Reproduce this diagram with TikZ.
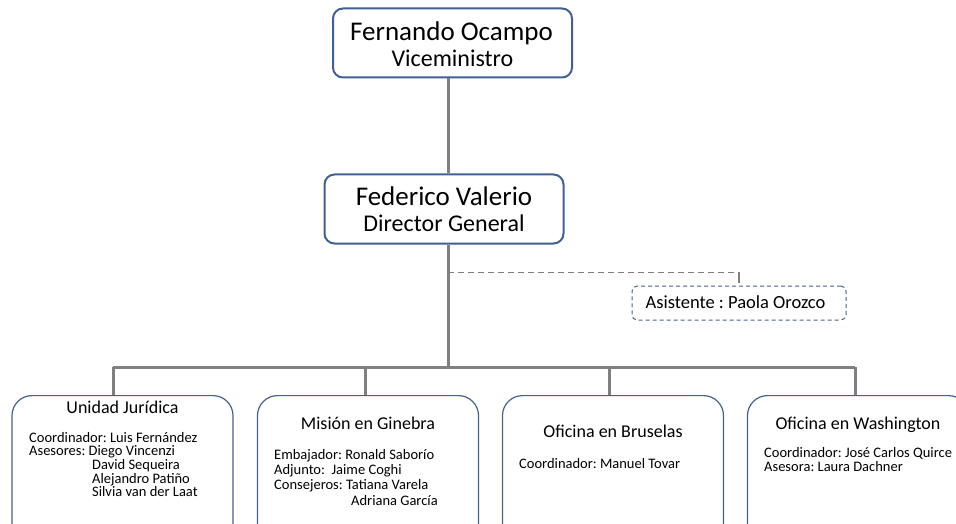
\documentclass[tikz,border=0pt]{standalone}
\usepackage{fontspec}
\setmainfont{Carlito}
\usetikzlibrary{positioning,calc}
\definecolor{boxblue}{RGB}{65,97,146}
\definecolor{linegray}{RGB}{128,128,128}

\tikzset{
  headbox/.style={draw=boxblue,line width=2pt,rounded corners=10pt,fill=white,
    minimum width=239pt,minimum height=69pt,inner sep=0pt},
  headname/.style={font=\fontsize{27}{30}\selectfont,anchor=base,inner sep=0pt},
  headrole/.style={font=\fontsize{24}{27}\selectfont,anchor=base,inner sep=0pt},
  unitbox/.style={draw=boxblue,line width=1.2pt,rounded corners=20pt,fill=white,
    minimum width=221pt,minimum height=160pt,anchor=north,inner sep=0pt},
  asistbox/.style={draw=boxblue,line width=1pt,dash pattern=on 4pt off 3pt,
    rounded corners=5pt,minimum width=214pt,minimum height=34pt,inner sep=0pt},
  asisttext/.style={font=\fontsize{18.5}{21}\selectfont,anchor=base,inner sep=0pt},
  conn/.style={draw=linegray,line width=3pt},
  dashconn/.style={draw=linegray,line width=1pt,dash pattern=on 6pt off 4pt},
  unittitle/.style={font=\fontsize{18}{21}\selectfont,anchor=base,inner sep=0pt},
  unitinfo/.style={font=\fontsize{14.5}{13.6}\selectfont,anchor=north west,align=left,inner sep=0pt},
}

\begin{document}
\frenchspacing
\begin{tikzpicture}[x=1pt,y=-1pt]
  \useasboundingbox (0,0) rectangle (956,524);
  \clip (0,0) rectangle (956,524);
  % top of the chart
  \node[headbox] (vice) at (452.5,43) {};
  \node[headname] (viceName) at (451.5,41) {Fernando Ocampo};
  \node[headrole] (viceRole) at (452.5,67) {Viceministro};
  \node[headbox] (dir) at (444,209) {};
  \node[headname] (dirName) at (444,205) {Federico Valerio};
  \node[headrole] (dirRole) at (444,231) {Director General};
  \node[asistbox] (asist) at (739,303) {};
  \node[asisttext] (asistText) at (735.5,308) {Asistente : Paola Orozco};
  \coordinate (trunk) at (448,0);
  \coordinate (bus) at (448,367);
  \coordinate (asistTap) at (739,272);
  % units
  \node[unitbox] (u1) at (122.5,395) {};
  \node[unitbox] (u2) at (368,395) {};
  \node[unitbox] (u3) at (613,395) {};
  \node[unitbox] (u4) at (858,395) {};
  \coordinate (drop1) at (113,367);
  \coordinate (drop2) at (365,367);
  \coordinate (drop3) at (609,367);
  \coordinate (drop4) at (855,367);
  % connectors
  \draw[conn] (vice.south -| trunk) -- (dir.north -| trunk);
  \draw[conn] (dir.south -| trunk) -- (bus);
  \draw[conn] (drop1) -- (drop4);
  \draw[conn] (drop1) -- (drop1 |- u1.north);
  \draw[conn] (drop2) -- (drop2 |- u2.north);
  \draw[conn] (drop3) -- (drop3 |- u3.north);
  \draw[conn] (drop4) -- (drop4 |- u4.north);
  \draw[dashconn] (asistTap -| trunk) -- (asistTap);
  \draw[draw=linegray,line width=2pt] (asistTap) -- ($(asistTap)+(0,11)$);
  % unit texts
  \node[unittitle] (t1) at (122.5,413) {Unidad Jurídica};
  \node[unittitle] (t2) at (368,429) {Misión en Ginebra};
  \node[unittitle] (t3) at (613,437) {Oficina en Bruselas};
  \node[unittitle] (t4) at (858,429) {Oficina en Washington};
  \node[unitinfo] (i1) at (29,432) {Coordinador: Luis Fernández\\
    Asesores: Diego Vincenzi\\
    \hspace*{63pt}David Sequeira\\
    \hspace*{63pt}Alejandro Patiño\\
    \hspace*{63pt}Silvia van der Laat};
  \node[unitinfo,font=\fontsize{14.5}{15.3}\selectfont] (i2) at (274,449) {Embajador: Ronald Saborío\\
    Adjunto:\ \ Jaime Coghi\\
    Consejeros: Tatiana Varela\\
    \hspace*{77pt}Adriana García};
  \node[unitinfo] (i3) at (519,458) {Coordinador: Manuel Tovar};
  \node[unitinfo,font=\fontsize{14.5}{14}\selectfont] (i4) at (764,447) {Coordinador: José Carlos Quirce\\
    Asesora: Laura Dachner};
\end{tikzpicture}
\end{document}
